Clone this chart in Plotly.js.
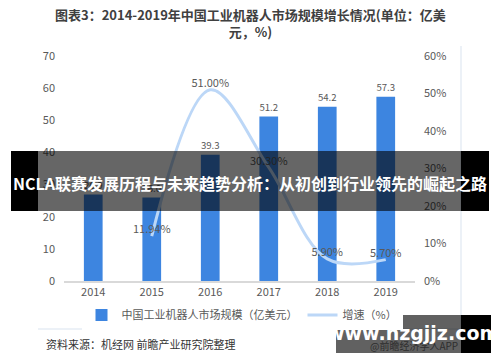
<!DOCTYPE html>
<html>
<head>
<meta charset="utf-8">
<script src="https://cdn.plot.ly/plotly-3.0.1.min.js"></script>
<style>html,body{margin:0;padding:0;background:#fff;}#chart{width:500px;height:362px;}</style>
</head>
<body>
<div id="chart"></div>
<script>
// ---- data ----
const years = ['2014', '2015', '2016', '2017', '2018', '2019'];
const marketSize = [26.9, 26.0, 39.3, 51.2, 54.2, 57.3];      // 亿美元
const growthPct = [null, 11.94, 51.00, 30.30, 5.90, 5.70];    // %
const barName = '中国工业机器人市场规模（亿美元）';
const lineName = '增速（%）';
const leftTicks = [0, 10, 20, 30, 40, 50, 60, 70];
const rightTicks = [0, 0.1, 0.2, 0.3, 0.4, 0.5, 0.6];

// ---- geometry helpers (pixel -> paper) ----
const L = 64, R = 415, T = 56, B = 281;
const W = 500, H = 362;
const px = x => (x - L) / (R - L);
const py = y => (B - y) / (B - T);

const font = 'Noto Sans CJK SC, Noto Sans, sans-serif';

const barTrace = {
  type: 'bar', x: years, y: marketSize, name: barName,
  marker: {color: '#3d85e0'},
  text: marketSize.map((v, i) => i < 2 ? v.toFixed(1) : v.toFixed(1)),
  textposition: 'outside', cliponaxis: false,
  textfont: {size: 11, color: '#595959', family: font},
  width: 0.32, hoverinfo: 'skip'
};
const lineTrace = {
  type: 'scatter', mode: 'lines+text', x: years,
  y: growthPct.map(v => v === null ? null : v / 100),
  yaxis: 'y2', name: lineName,
  line: {color: '#bcd7f7', width: 3, shape: 'spline', smoothing: 1},
  text: growthPct.map(v => v === null ? '' : v.toFixed(2) + '%'),
  textposition: 'top center', cliponaxis: false,
  textfont: {size: 11, color: '#595959', family: font},
  connectgaps: false, hoverinfo: 'skip'
};

const shapes = [
  // frame lines
  {type: 'line', xref: 'paper', yref: 'paper', x0: px(38), x1: px(461), y0: py(329), y1: py(329), line: {color: '#e6edf5', width: 1.5}},
  {type: 'line', xref: 'paper', yref: 'paper', x0: px(461), x1: px(461), y0: py(46), y1: py(329), line: {color: '#e6edf5', width: 1.5}},
  // overlay band
  {type: 'rect', xref: 'paper', yref: 'paper', layer: 'above', x0: px(38), x1: px(461), y0: py(211), y1: py(151), fillcolor: 'rgba(0,0,0,0.6)', line: {width: 0}},
  {type: 'rect', xref: 'paper', yref: 'paper', layer: 'above', x0: px(11), x1: px(38), y0: py(211), y1: py(151), fillcolor: '#000', line: {width: 0}},
  {type: 'rect', xref: 'paper', yref: 'paper', layer: 'above', x0: px(461), x1: px(489), y0: py(211), y1: py(151), fillcolor: '#000', line: {width: 0}},
  // watermark box
  {type: 'rect', xref: 'paper', yref: 'paper', layer: 'above', x0: px(336), x1: px(461), y0: py(353), y1: py(315), fillcolor: 'rgba(0,0,0,0.62)', line: {width: 0}},
  {type: 'rect', xref: 'paper', yref: 'paper', layer: 'above', x0: px(461), x1: px(491), y0: py(353), y1: py(315), fillcolor: '#000', line: {width: 0}}
];

const annotations = [
  {xref: 'paper', yref: 'paper', x: px(250), y: py(23), xanchor: 'center', yanchor: 'middle', showarrow: false,
   text: '<b>图表3：2014-2019年中国工业机器人市场规模增长情况(单位：亿美<br>元，%)</b>',
   font: {size: 13, color: '#404040', family: font}, align: 'center'},
  {xref: 'paper', yref: 'paper', x: px(44), y: py(344), xanchor: 'left', yanchor: 'middle', showarrow: false,
   text: '资料来源：机经网 前瞻产业研究院整理', font: {size: 11, color: '#333333', family: font}},
  {xref: 'paper', yref: 'paper', x: px(460), y: py(345), xanchor: 'right', yanchor: 'middle', showarrow: false,
   text: '@前瞻经济学人APP', font: {size: 10, color: '#2e2e2e', family: font}},
  {xref: 'paper', yref: 'paper', x: px(250), y: py(183), xanchor: 'center', yanchor: 'middle', showarrow: false,
   text: '<b>NCLA联赛发展历程与未来趋势分析：从初创到行业领先的崛起之路</b>', font: {size: 16, color: '#ffffff', family: font}},
  {xref: 'paper', yref: 'paper', x: px(413), y: py(333), xanchor: 'center', yanchor: 'middle', showarrow: false,
   text: '<b>www.hzgjjz.com</b>', font: {size: 19, color: '#ffffff', family: 'DejaVu Sans, sans-serif'}}
];

const layout = {
  width: W, height: H,
  margin: {l: L, r: W - R, t: T, b: H - B, pad: 0},
  paper_bgcolor: '#ffffff', plot_bgcolor: '#ffffff',
  font: {family: font, size: 11, color: '#595959'},
  showlegend: true,
  legend: {orientation: 'h', x: px(242), xanchor: 'center', y: py(315), yanchor: 'middle',
           font: {size: 11, color: '#595959', family: font}, itemwidth: 30, traceorder: 'normal'},
  bargap: 0.68,
  xaxis: {type: 'category', range: [-0.5, 5.5], showgrid: false, zeroline: false,
          showline: true, linecolor: '#d9d9d9', linewidth: 1.5, ticks: '',
          tickfont: {size: 11, color: '#595959'}, fixedrange: true},
  yaxis: {range: [0, 70], tickvals: leftTicks, showgrid: false, zeroline: false, showline: false,
          ticks: '', ticklabelstandoff: 8, tickfont: {size: 11, color: '#595959'}},
  yaxis2: {overlaying: 'y', side: 'right', range: [0, 0.6], tickvals: rightTicks, tickformat: '.0%',
           showgrid: false, zeroline: false, showline: false, ticks: '', ticklabelstandoff: 8,
           tickfont: {size: 11, color: '#595959'}},
  shapes: shapes,
  annotations: annotations
};

Plotly.newPlot('chart', [barTrace, lineTrace], layout, {displayModeBar: false, staticPlot: true});
</script>
</body>
</html>
